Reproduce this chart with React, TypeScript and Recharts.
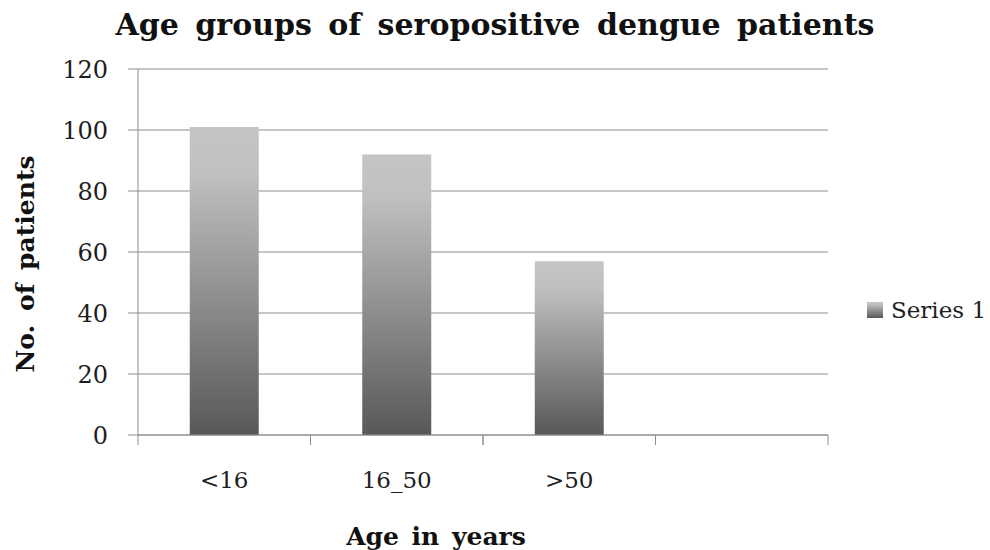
import React from 'react';
import { BarChart, Bar, XAxis, YAxis, CartesianGrid, Legend, Label } from 'recharts';

const categories = ['<16', '16_50', '>50', ''];
const patients = [101, 92, 57, null];
const yTicks = [0, 20, 40, 60, 80, 100, 120];

const data = categories.map((age, i) => ({ age, patients: patients[i] }));

const GRID = '#8e8e8e';
const SERIF = '"DejaVu Serif", Cambria, serif';

// tick with category label in the middle and tick marks on the band edges
const CategoryTick = (props: any) => {
  const { x, y, payload } = props;
  const half = payload?.offset ?? 0;
  return (
    <g>
      <line x1={x - half} x2={x - half} y1={y} y2={y + 10} stroke={GRID} />
      <line x1={x + half} x2={x + half} y1={y} y2={y + 10} stroke={GRID} />
      <text x={x} y={y + 37} dy="0.71em" textAnchor="middle" fontFamily={SERIF} fontSize={23} fill="#1e1e1e">
        {payload.value}
      </text>
    </g>
  );
};

const YTitle = (props: any) => {
  const { viewBox } = props;
  const cx = viewBox.x + 25;
  const cy = viewBox.y + viewBox.height / 2 + 12;
  return (
    <text x={cx} y={cy} transform={`rotate(-90, ${cx}, ${cy})`} textAnchor="middle" dominantBaseline="central"
      fontFamily={SERIF} fontWeight="bold" fontSize={25} wordSpacing={5} fill="#111">
      No. of patients
    </text>
  );
};

const XTitle = (props: any) => {
  const { viewBox } = props;
  return (
    <text x={viewBox.x + 298} y={viewBox.y + 110} textAnchor="middle"
      fontFamily={SERIF} fontWeight="bold" fontSize={25} wordSpacing={4} fill="#111">
      Age in years
    </text>
  );
};

const LegendContent = () => (
  <div style={{ display: 'flex', alignItems: 'center', fontFamily: SERIF, fontSize: 23, color: '#1e1e1e' }}>
    <svg width={16} height={16} style={{ marginRight: 8 }}>
      <rect x={0} y={0} width={16} height={16} fill="url(#barFill)" />
    </svg>
    Series 1
  </div>
);

export default function App() {
  return (
    <div style={{ position: 'relative', width: 990, height: 550, background: '#fff' }}>
      <style>{'body { margin: 0; }'}</style>
      <div style={{
        position: 'absolute', top: 7, left: 0, width: 990, textAlign: 'center',
        fontFamily: SERIF, fontWeight: 'bold', fontSize: 30, wordSpacing: 6, color: '#111'
      }}>
        Age groups of seropositive dengue patients
      </div>
      <BarChart width={990} height={550} data={data} barCategoryGap="30%"
        margin={{ top: 69, right: 162, bottom: 0, left: 0 }}>
        <defs>
          <linearGradient id="barFill" x1="0" y1="0" x2="0" y2="1">
            <stop offset="0%" stopColor="#c5c5c5" />
            <stop offset="15%" stopColor="#c0c0c0" />
            <stop offset="100%" stopColor="#585858" />
          </linearGradient>
        </defs>
        <CartesianGrid vertical={false} stroke={GRID} />
        <XAxis dataKey="age" height={115} interval={0} tickLine={false} tickSize={0} tickMargin={0}
          axisLine={{ stroke: GRID }} tick={<CategoryTick />}>
          <Label content={<XTitle />} />
        </XAxis>
        <YAxis width={138} domain={[0, 120]} ticks={yTicks} tickSize={10} tickMargin={20}
          axisLine={{ stroke: GRID }} tickLine={{ stroke: GRID }}
          tick={{ fontFamily: SERIF, fontSize: 24, fill: '#1e1e1e' }}>
          <Label content={<YTitle />} />
        </YAxis>
        <Legend layout="horizontal" verticalAlign="middle" content={<LegendContent />}
          wrapperStyle={{ left: 867, top: 297, width: 'auto' }} />
        <Bar dataKey="patients" name="Series 1" fill="url(#barFill)" isAnimationActive={false} />
      </BarChart>
    </div>
  );
}
